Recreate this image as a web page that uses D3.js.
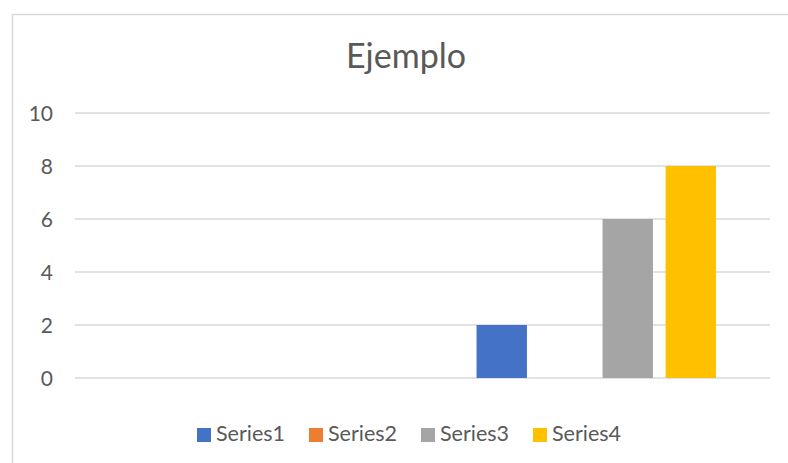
<!DOCTYPE html>
<meta charset="utf-8">
<script src="https://d3js.org/d3.v7.min.js"></script>
<style>
  body { margin: 0; background: #fff; }
  text { font-family: Lato, "Open Sans", sans-serif; fill: #595959; }
</style>
<div id="chart"></div>
<script>
  // chart data
  const categories = ["1", "2"];
  const seriesNames = ["Series1", "Series2", "Series3", "Series4"];
  const seriesValues = [
    [0, 2],
    [0, 0],
    [0, 6],
    [0, 8]
  ];
  const seriesColors = ["#4472c4", "#ed7d31", "#a5a5a5", "#ffc000"];
  const yTicks = [0, 2, 4, 6, 8, 10];

  const width = 788, height = 463;
  const plot = {left: 75, right: 770, top: 113, bottom: 378};

  const svg = d3.select("#chart").append("svg")
    .attr("width", width)
    .attr("height", height);

  // chart border (only top and left visible in the crop)
  svg.append("path")
    .attr("d", `M12.5,${height} V14.5 H${width}`)
    .attr("fill", "none")
    .attr("stroke", "#d9d9d9")
    .attr("stroke-width", 1.5);

  // title
  svg.append("text")
    .attr("x", 406)
    .attr("y", 68)
    .attr("text-anchor", "middle")
    .style("font-size", "34px")
    .text("Ejemplo");

  // scales
  const y = d3.scaleLinear()
    .domain([0, 10])
    .range([plot.bottom, plot.top]);

  const x0 = d3.scaleBand()
    .domain(categories)
    .range([plot.left, plot.right])
    .paddingInner(0.311)
    .paddingOuter(0.1555);

  const x1 = d3.scaleBand()
    .domain(seriesNames)
    .range([0, x0.bandwidth()])
    .paddingInner(0.2)
    .paddingOuter(0);

  // gridlines
  svg.append("g")
    .selectAll("line")
    .data(yTicks)
    .join("line")
      .attr("x1", plot.left)
      .attr("x2", plot.right)
      .attr("y1", d => y(d))
      .attr("y2", d => y(d))
      .attr("stroke", "#d9d9d9")
      .attr("stroke-width", 1.5);

  // y axis labels
  svg.append("g")
    .selectAll("text")
    .data(yTicks)
    .join("text")
      .attr("x", 53)
      .attr("y", d => y(d))
      .attr("dy", "0.36em")
      .attr("text-anchor", "end")
      .style("font-size", "21px")
      .text(d => d);

  // bars
  const rows = [];
  seriesNames.forEach((s, i) => {
    categories.forEach((c, j) => {
      rows.push({series: s, cat: c, value: seriesValues[i][j], color: seriesColors[i]});
    });
  });

  svg.append("g")
    .selectAll("rect")
    .data(rows)
    .join("rect")
      .attr("x", d => x0(d.cat) + x1(d.series))
      .attr("y", d => y(d.value))
      .attr("width", x1.bandwidth())
      .attr("height", d => y(0) - y(d.value))
      .attr("fill", d => d.color);

  // legend
  const legend = svg.append("g")
    .selectAll("g")
    .data(seriesNames)
    .join("g")
      .attr("transform", (d, i) => `translate(${197 + i * 112},0)`);

  legend.append("rect")
    .attr("x", 0)
    .attr("y", 428)
    .attr("width", 14)
    .attr("height", 14)
    .attr("fill", (d, i) => seriesColors[i]);

  legend.append("text")
    .attr("x", 19)
    .attr("y", 441)
    .style("font-size", "21.5px")
    .text(d => d);
</script>
